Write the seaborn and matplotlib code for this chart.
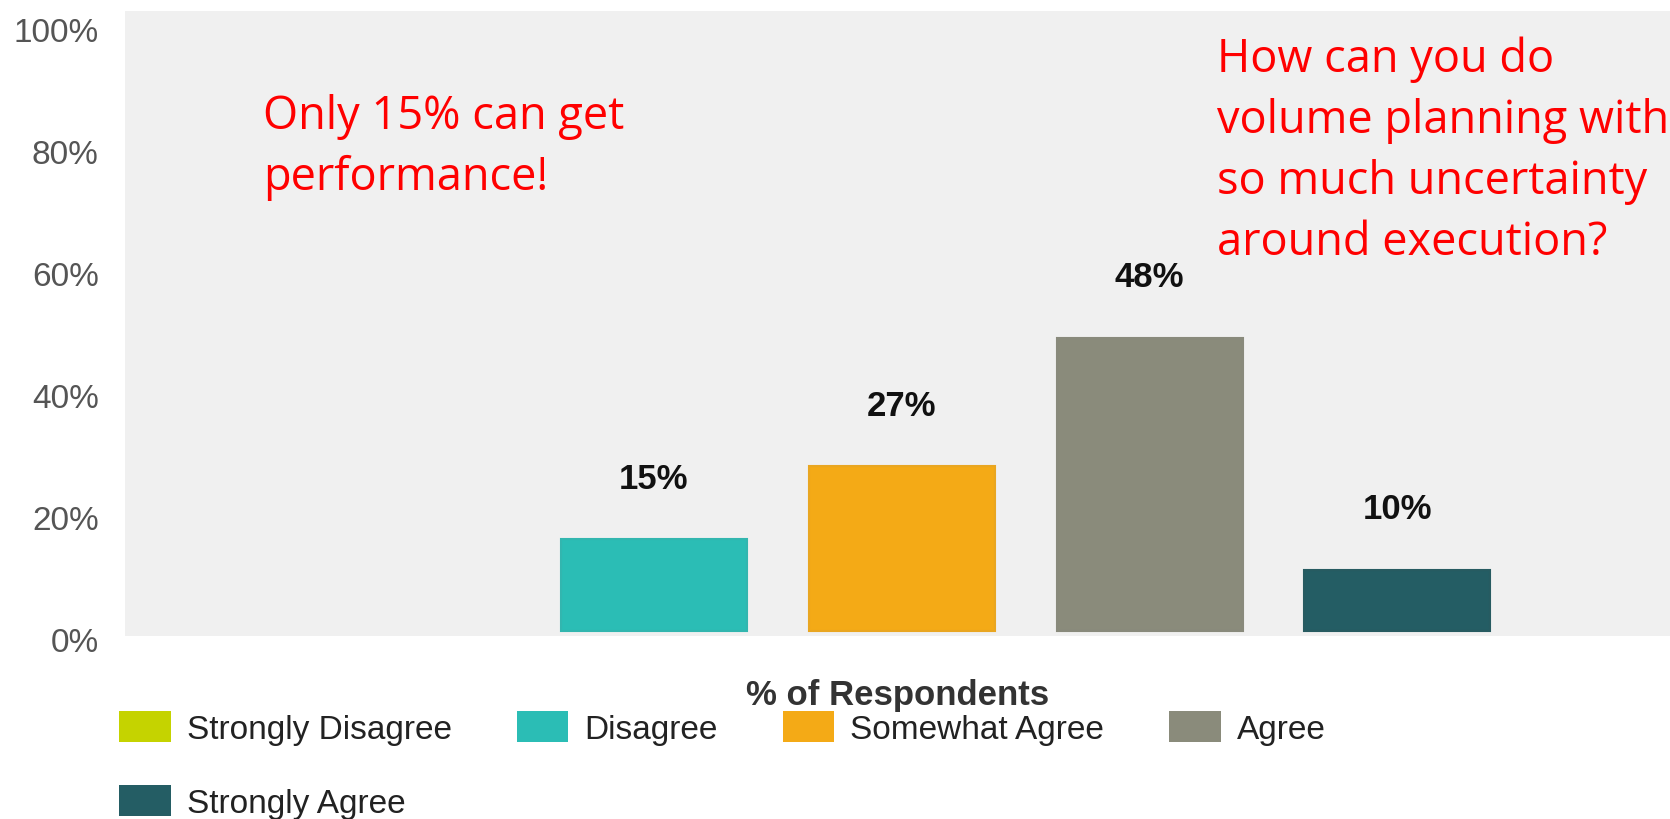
import matplotlib
matplotlib.use("Agg")
import matplotlib.pyplot as plt
import matplotlib.transforms as mtransforms
from matplotlib.patches import Patch
import seaborn as sns
import pandas as pd

# Survey responses
categories = ["Strongly Disagree", "Disagree", "Somewhat Agree", "Agree", "Strongly Agree"]
values = [0, 15, 27, 48, 10]
colors = ["#c5d300", "#2bbdb5", "#f4aa16", "#8a8b7b", "#245d64"]
y_ticks = [0, 20, 40, 60, 80, 100]
y_tick_labels = ["0%", "20%", "40%", "60%", "80%", "100%"]
x_title = "% of Respondents"
note_left = "Only 15% can get\nperformance!"
note_right = "How can you do\nvolume planning with\nso much uncertainty\naround execution?"

sns.set_theme(style="white")
plt.rcParams["font.family"] = ["Liberation Sans", "DejaVu Sans"]

df = pd.DataFrame({"category": categories, "value": values})
palette = dict(zip(categories, colors))

fig = plt.figure(figsize=(16.7, 8.2), dpi=100, facecolor="white")
ax = fig.add_axes([0.0749, 0.2232, 0.9251, 0.7622])
ax.set_facecolor("#f0f0f0")

sns.barplot(data=df, x="category", y="value", hue="category", palette=palette,
            width=0.75, legend=False, ax=ax, saturation=1)

for bar, c, v in zip(ax.patches, colors, values):
    if v > 0:
        bar.set_edgecolor(sns.desaturate(c, 0.9))
        bar.set_linewidth(1.5)
    else:
        bar.set_edgecolor("none")
        bar.set_linewidth(0)

ax.set_xlim(-1.134, 5.10)
ax.set_ylim(-0.82, 101.6)

for spine in ax.spines.values():
    spine.set_visible(False)

ax.set_xticks([])
ax.set_yticks(y_ticks)
ax.set_yticklabels(y_tick_labels, fontsize=24, color="#555555")
ax.tick_params(axis="y", length=0, pad=19)
shift = mtransforms.ScaledTranslation(0, -8 / 100, fig.dpi_scale_trans)
for lab in ax.get_yticklabels():
    lab.set_transform(lab.get_transform() + shift)

ax.set_xlabel(x_title, fontsize=25, fontweight="bold", color="#333333", labelpad=30)
ax.set_ylabel("")

# Value labels above each bar
for i, v in enumerate(values):
    if v > 0:
        ax.annotate(f"{v}%", xy=(i, v), xytext=(0, 44), textcoords="offset points",
                    ha="center", va="center", fontsize=25, fontweight="bold",
                    color="#111111")

# Callouts (anchored at the baseline of their last line)
note_font = ["Open Sans", "DejaVu Sans"]
fig.text(263 / 1670, 1 - 190 / 820, note_left, fontsize=32.5, color="#ff0000",
         family=note_font, ha="left", va="baseline", linespacing=1.41)
fig.text(1217 / 1670, 1 - 255 / 820, note_right, fontsize=32.5, color="#ff0000",
         family=note_font, ha="left", va="baseline", linespacing=1.43)

# Legend laid out row by row
handles = [Patch(facecolor=c, edgecolor="none") for c in colors]
order = [0, 4, 1, 2, 3]
fig.legend([handles[i] for i in order], [categories[i] for i in order],
           ncol=4, loc="upper left", bbox_to_anchor=(119 / 1670, 1 - 712 / 820),
           frameon=False, fontsize=24, handlelength=1.55, handleheight=1.05,
           handletextpad=0.48, columnspacing=1.95, labelspacing=1.2,
           borderpad=0, borderaxespad=0, labelcolor="#222222")

fig.savefig("out.png", dpi=100, facecolor="white")
